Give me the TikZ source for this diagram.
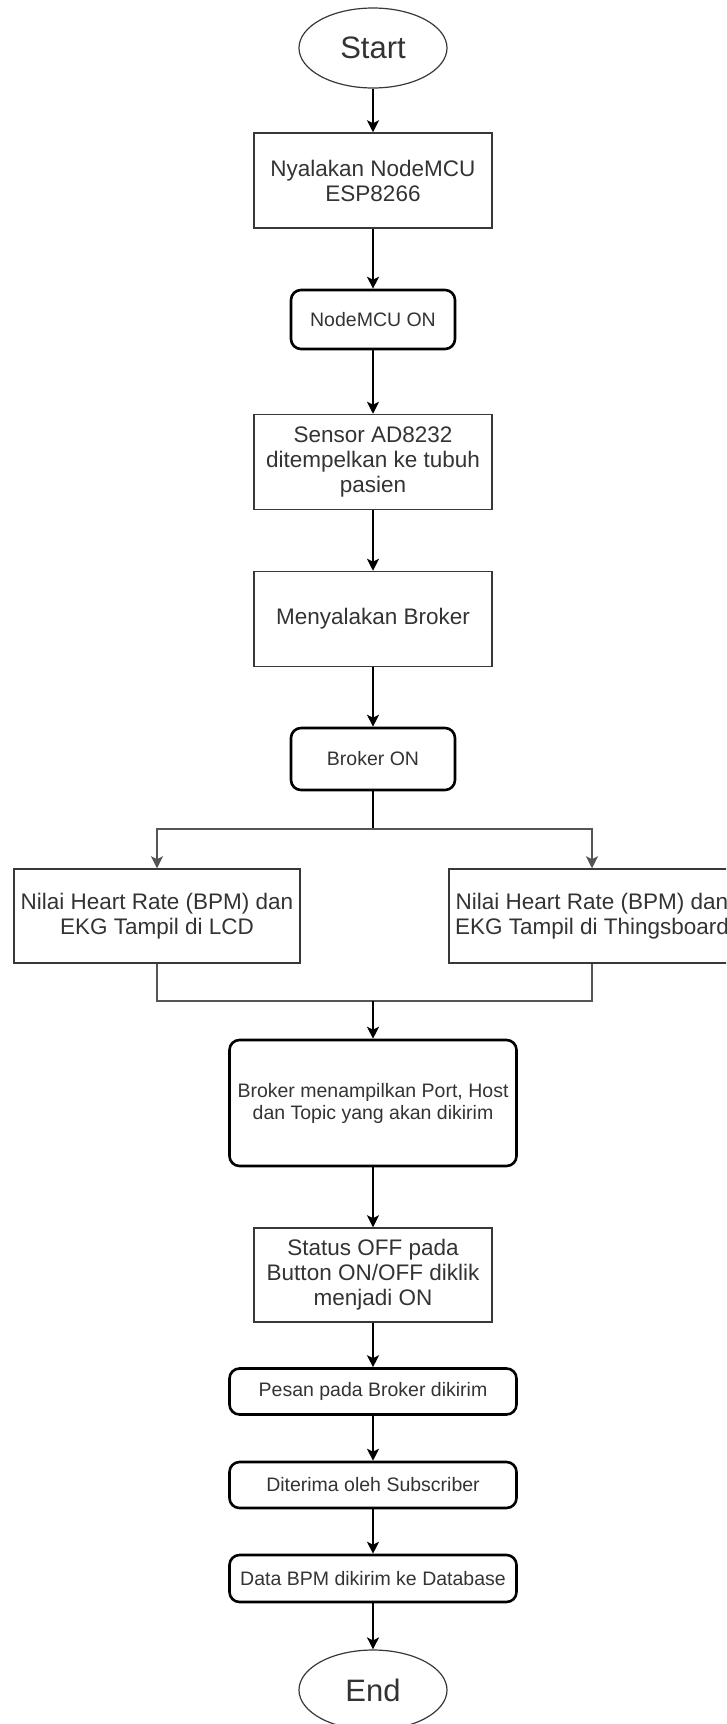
\documentclass[tikz,border=0pt]{standalone}
\usepackage{fontspec}
\setmainfont{Liberation Sans}
\usetikzlibrary{shapes.geometric, arrows.meta}
\definecolor{txt}{HTML}{333333}
\definecolor{edge}{HTML}{383838}
\definecolor{wire}{HTML}{555555}

\begin{document}
\begin{tikzpicture}[
    x=1pt, y=-1pt,
    term/.style={draw=edge, ellipse, line width=1.2pt, minimum width=148pt,
                 minimum height=80pt, inner sep=0pt, text=txt,
                 font=\fontsize{31}{34}\selectfont},
    proc/.style={draw=edge, line width=1.5pt, minimum width=238pt,
                 minimum height=#1, inner sep=0pt, align=center, text=txt,
                 font=\fontsize{22.5}{25}\selectfont},
    state/.style={draw=black, rounded corners=10pt, line width=2.6pt,
                  minimum width=#1, inner sep=0pt, align=center, text=txt,
                  font=\fontsize{19.5}{22}\selectfont},
    arr/.style={-{Stealth[length=12pt, width=12pt, inset=3pt]}, line width=1.6pt},
    link/.style={line width=1.5pt, draw=wire},
]
\clip (0,0) rectangle (726,1724);

\node[term]  (start) at (373,48) {Start};
\node[proc=95pt] (nyala) at (373,180.5) {Nyalakan NodeMCU\\ESP8266};
\node[state=164pt, minimum height=59pt] (mcuon) at (373,319.5) {NodeMCU ON};
\node[proc=95pt] (sensor) at (373,462) {Sensor AD8232\\ditempelkan ke tubuh\\pasien};
\node[proc=95pt] (broker) at (373,619) {Menyalakan Broker};
\node[state=164pt, minimum height=62pt] (brokeron) at (373,759) {Broker ON};

\node[proc=94pt, minimum width=286pt] (lcd) at (157,916)
    {Nilai Heart Rate (BPM) dan\\EKG Tampil di LCD};
\node[proc=94pt, minimum width=286pt] (tb) at (592,916)
    {Nilai Heart Rate (BPM) dan\\EKG Tampil di Thingsboard};

\node[state=287pt, minimum height=126pt] (tampil) at (373,1103)
    {Broker menampilkan Port, Host\\dan Topic yang akan dikirim};
\node[proc=94pt] (status) at (373,1275) {Status OFF pada\\Button ON/OFF diklik\\menjadi ON};
\node[state=287pt, minimum height=46pt] (pesan) at (373,1391.5) {Pesan pada Broker dikirim};
\node[state=287pt, minimum height=46pt] (terima) at (373,1485) {Diterima oleh Subscriber};
\node[state=287pt, minimum height=47pt] (data) at (373,1578.5) {Data BPM dikirim ke Database};
\node[term]  (end) at (373,1690) {End};

\coordinate (split) at (373,829);
\coordinate (join)  at (373,1001);

% main line
\foreach \a/\b in {start/nyala, nyala/mcuon, mcuon/sensor, sensor/broker,
                   broker/brokeron, tampil/status, status/pesan,
                   pesan/terima, terima/data, data/end} {
    \draw[arr] (\a) -- (\b);
}

% branch to the two outputs
\draw[line width=1.6pt] (brokeron) -- (split);
\draw[link] (lcd.north |- split) -- (tb.north |- split);
\draw[arr, draw=wire] (split) -| (lcd.north);
\draw[arr, draw=wire] (split) -| (tb.north);

% back together
\draw[link] (lcd) |- (join);
\draw[link] (tb) |- (join);
\draw[arr] (join) -- (tampil);
\end{tikzpicture}
\end{document}
